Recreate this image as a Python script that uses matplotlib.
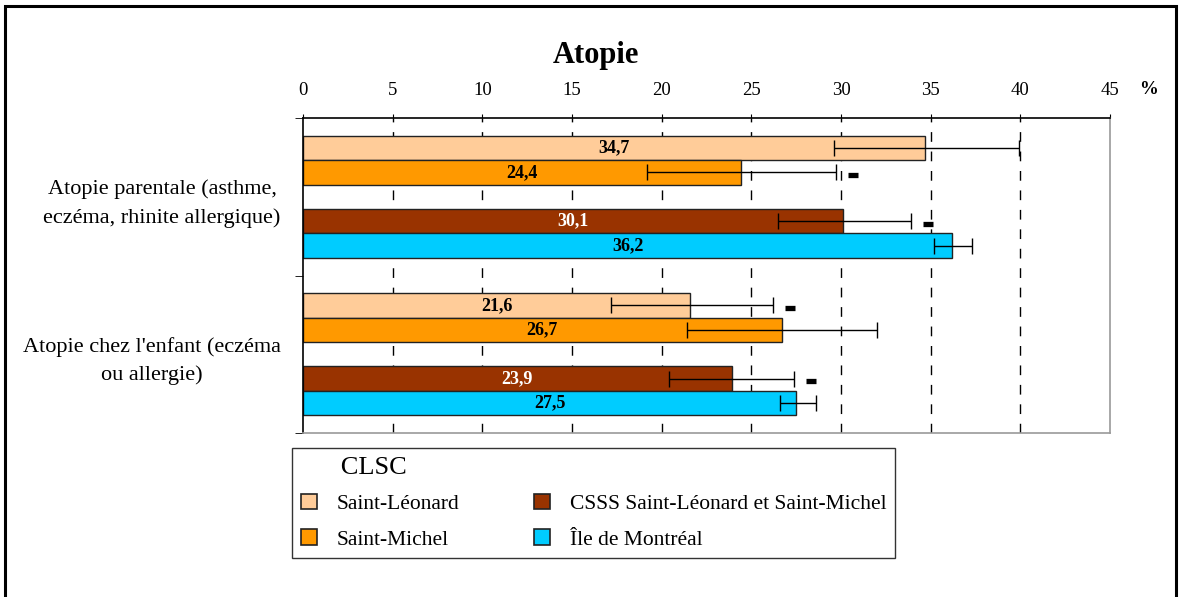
import numpy as np
import matplotlib
matplotlib.use('Agg')
import matplotlib.pyplot as plt
from matplotlib.patches import Patch, Rectangle

plt.rcParams['font.family'] = ['Liberation Serif', 'DejaVu Serif']

# data
categories = ["Atopie parentale (asthme,\neczéma, rhinite allergique)",
              "Atopie chez l'enfant (eczéma\nou allergie)"]
series = ["Saint-Léonard", "Saint-Michel", "CSSS Saint-Léonard et Saint-Michel", "Île de Montréal"]
colors = ["#FFCC99", "#FF9900", "#993300", "#00CCFF"]
label_colors = ["black", "black", "white", "black"]

st_leonard = [34.7, 21.6]
st_michel = [24.4, 26.7]
csss = [30.1, 23.9]
montreal = [36.2, 27.5]

st_leonard_lo = [29.6, 17.2]
st_leonard_hi = [39.9, 26.2]
st_michel_lo = [19.2, 21.4]
st_michel_hi = [29.7, 32.0]
csss_lo = [26.5, 20.4]
csss_hi = [33.9, 27.4]
montreal_lo = [35.2, 26.6]
montreal_hi = [37.3, 28.6]

# significant difference flag (black dash after the error bar)
st_leonard_sig = [False, True]
st_michel_sig = [True, False]
csss_sig = [True, True]
montreal_sig = [False, False]

xticks = [0, 5, 10, 15, 20, 25, 30, 35, 40, 45]

vals = [st_leonard, st_michel, csss, montreal]
los = [st_leonard_lo, st_michel_lo, csss_lo, montreal_lo]
his = [st_leonard_hi, st_michel_hi, csss_hi, montreal_hi]
sigs = [st_leonard_sig, st_michel_sig, csss_sig, montreal_sig]

fig = plt.figure(figsize=(11.8, 5.97), dpi=100)
ax = fig.add_axes([0.2568, 0.2747, 0.6839, 0.5276])

bar_h = 0.155
offsets = [-2, -1, 1, 2]
cat_pos = np.arange(len(categories))

for k in range(4):
	y = cat_pos + offsets[k] * bar_h
	v = np.array(vals[k])
	err = [v - np.array(los[k]), np.array(his[k]) - v]
	ax.barh(y, v, height=bar_h, color=colors[k], edgecolor='#222222', linewidth=1.0, zorder=2)
	ax.errorbar(v, y, xerr=err, fmt='none', ecolor='black', elinewidth=1.0, capsize=6, capthick=1.0, zorder=3)
	for j in range(len(categories)):
		ax.text(v[j] / 2, y[j], f"{v[j]:.1f}".replace('.', ','), ha='center', va='center',
			fontsize=13, fontweight='bold', color=label_colors[k], zorder=4)
		if sigs[k][j]:
			ax.plot(his[k][j] + 0.95, y[j] + 0.015, marker='_', markersize=6.5, mew=3.8, color='black', zorder=4)

ax.set_xlim(0, 45)
ax.set_ylim(1.5, -0.5)
ax.set_xticks(xticks)
ax.set_xticklabels([str(t) for t in xticks], fontsize=13.5)
ax.xaxis.tick_top()
ax.tick_params(axis='x', direction='out', length=3, pad=11, color='black')
ax.set_yticks(cat_pos)
ax.set_yticklabels(categories, fontsize=16, linespacing=1.6)
for lab in ax.get_yticklabels():
	lab.set_multialignment('center')
ax.tick_params(axis='y', which='major', length=0, pad=16)
ax.set_yticks([-0.5, 0.5, 1.5], minor=True)
ax.tick_params(axis='y', which='minor', length=6, direction='out')

for t in xticks[1:-1]:
	ax.axvline(t, color='black', linestyle=(0, (7, 7)), linewidth=1.0, zorder=1)

ax.spines['top'].set_color('black')
ax.spines['left'].set_color('black')
ax.spines['right'].set_color('#999999')
ax.spines['bottom'].set_color('#999999')
for s in ax.spines.values():
	s.set_linewidth(1.2)

fig.text(0.505, 0.907, "Atopie", ha='center', va='center', fontsize=22, fontweight='bold')
fig.text(0.973, 0.850, "%", ha='center', va='center', fontsize=13.5, fontweight='bold')

handles = [Patch(facecolor=c, edgecolor='#222222', linewidth=1.2) for c in colors]
leg = fig.legend(handles, series, loc='upper left', bbox_to_anchor=(292 / 1180, 1 - 448 / 597), ncol=2,
	title="      CLSC", fontsize=15.5, title_fontsize=19, alignment='left',
	handlelength=0.75, handleheight=0.75, handletextpad=0.9, columnspacing=3.5, labelspacing=0.7,
	frameon=True, fancybox=False, edgecolor='black', borderpad=0.4, borderaxespad=0)
leg.get_frame().set_linewidth(1.0)

# outer border of the figure
fig.patches.append(Rectangle((5 / 1180, -0.01), 1171 / 1180, 1 - 6 / 597 + 0.01, transform=fig.transFigure,
	fill=False, edgecolor='black', linewidth=2.2))

fig.savefig('out.png', dpi=100)
